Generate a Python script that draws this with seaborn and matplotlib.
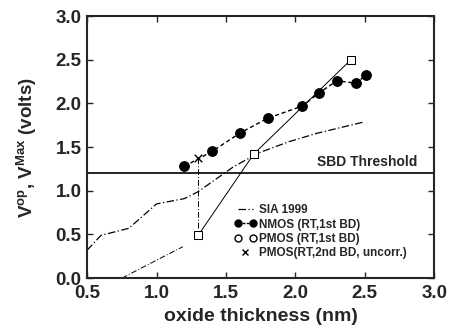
import matplotlib
matplotlib.use('Agg')
import matplotlib.pyplot as plt
from matplotlib.lines import Line2D
from matplotlib.legend_handler import HandlerLine2D
import seaborn as sns

# SIA 1999 roadmap curve
sia_x = [0.5, 0.6, 0.8, 1.0, 1.2, 1.3, 1.55, 1.73, 1.95, 2.16, 2.5]
sia_y = [0.32, 0.49, 0.57, 0.85, 0.91, 0.99, 1.27, 1.43, 1.56, 1.66, 1.79]
# lower dash-dot segment
low_x = [0.75, 1.03, 1.19]
low_y = [0.0, 0.23, 0.36]
# NMOS (RT, 1st BD)
nmos_x = [1.2, 1.4, 1.6, 1.8, 2.05, 2.17, 2.3, 2.44, 2.51]
nmos_y = [1.28, 1.45, 1.66, 1.83, 1.97, 2.12, 2.26, 2.23, 2.33]
# PMOS (RT, 1st BD)
pmos_x = [1.3, 1.7, 2.4]
pmos_y = [0.49, 1.42, 2.5]
# PMOS (RT, 2nd BD, uncorr.)
pmos2_x = [1.3]
pmos2_y = [1.38]
sbd_threshold = 1.2

sns.set_style("ticks")
plt.rcParams['font.family'] = ['Liberation Sans', 'DejaVu Sans']
plt.rcParams['font.weight'] = 'bold'
plt.rcParams['mathtext.fontset'] = 'custom'
plt.rcParams['mathtext.rm'] = 'Liberation Sans:bold'
plt.rcParams['mathtext.bf'] = 'Liberation Sans:bold'
plt.rcParams['mathtext.it'] = 'Liberation Sans:bold'

dashdot = (0, (6, 2, 1, 2))

fig = plt.figure(figsize=(4.49, 3.28), dpi=100)
ax = fig.add_axes([0.194, 0.152, 0.773, 0.799])

sns.lineplot(x=sia_x, y=sia_y, ax=ax, color='black', linewidth=0.9,
             linestyle=dashdot)
sns.lineplot(x=low_x, y=low_y, ax=ax, color='black', linewidth=0.7,
             linestyle=dashdot)
sns.lineplot(x=nmos_x, y=nmos_y, ax=ax, color='black', linewidth=1.0,
             linestyle=(0, (3, 2)), marker='o', markersize=7,
             markerfacecolor='black', markeredgecolor='black', sort=False)
sns.lineplot(x=pmos_x, y=pmos_y, ax=ax, color='black', linewidth=0.7,
             marker='s', markersize=6, markerfacecolor='white',
             markeredgecolor='black', sort=False)
# vertical dash-dot link between 2nd BD and 1st BD at 1.3 nm
ax.plot([pmos2_x[0], pmos_x[0]], [pmos2_y[0], pmos_y[0] + 0.06],
        color='black', linewidth=0.7, linestyle=dashdot)
sns.scatterplot(x=pmos2_x, y=pmos2_y, ax=ax, marker='x', color='black',
                s=30, linewidth=1.0)

ax.axhline(sbd_threshold, color='black', linewidth=1.2)
ax.text(2.88, sbd_threshold + 0.05, 'SBD Threshold', ha='right', va='bottom',
        fontsize=10, fontweight='bold')

ax.set_xlim(0.5, 3.0)
ax.set_ylim(0.0, 3.0)
ax.set_xticks([0.5, 1.0, 1.5, 2.0, 2.5, 3.0])
ax.set_yticks([0.0, 0.5, 1.0, 1.5, 2.0, 2.5, 3.0])
ax.set_xticklabels(['0.5', '1.0', '1.5', '2.0', '2.5', '3.0'])
ax.set_yticklabels(['0.0', '0.5', '1.0', '1.5', '2.0', '2.5', '3.0'])
ax.tick_params(direction='in', top=True, right=True, length=4, width=1,
               labelsize=13.5)
ax.tick_params(axis='x', pad=5)
ax.tick_params(axis='y', pad=4)
for sp in ax.spines.values():
    sp.set_linewidth(1.5)
    sp.set_visible(True)

ax.set_xlabel('oxide thickness (nm)', fontsize=14, fontweight='bold', labelpad=4)
ax.set_ylabel(r'V$^{op}$, V$^{Max}$ (volts)', fontsize=13.5,
              fontweight='bold', labelpad=12)

h_sia = Line2D([], [], color='black', linewidth=0.9, linestyle=dashdot)
h_nmos = Line2D([], [], color='black', linewidth=1.0, linestyle=(0, (2, 1)),
                marker='o', markersize=5, markerfacecolor='black')
h_pmos = Line2D([], [], color='none', marker='o', markersize=5,
                markerfacecolor='white', markeredgecolor='black')
h_pmos2 = Line2D([], [], color='none', marker='x', markersize=5,
                 markeredgecolor='black')
labels = ['SIA 1999', 'NMOS (RT,1st BD)', 'PMOS (RT,1st BD)',
          'PMOS(RT,2nd BD, uncorr.)']
ax.legend([h_sia, h_nmos, h_pmos, h_pmos2], labels, loc='upper left',
          bbox_to_anchor=(0.41, 0.30), frameon=False, fontsize=8.5,
          handlelength=1.9, handletextpad=0.2, labelspacing=0.2,
          borderaxespad=0, numpoints=2,
          handler_map={h_pmos2: HandlerLine2D(numpoints=1, marker_pad=0)})

plt.savefig('out.png', dpi=100)
plt.close()
